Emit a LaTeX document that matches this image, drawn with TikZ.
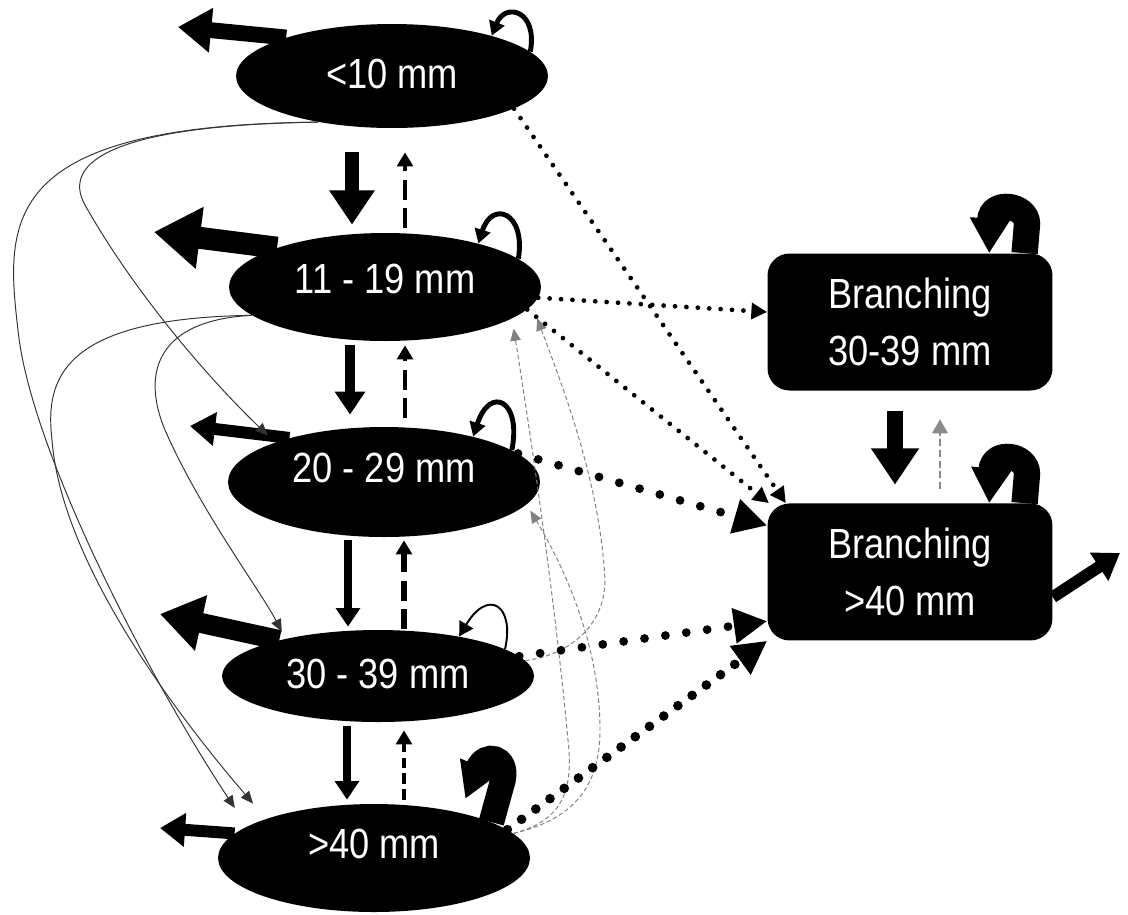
\documentclass[tikz,border=0pt]{standalone}
\usepackage{fontspec}
\setmainfont{Liberation Sans}[FakeStretch=0.86]
\usetikzlibrary{positioning}
\usetikzlibrary{arrows.meta,shapes.geometric}

\begin{document}
\begin{tikzpicture}[x=0.02cm,y=-0.02cm,node distance=5cm,on grid,
  sizeclass/.style={ellipse,fill=black,text=white,inner sep=0pt,minimum width=6.24cm,minimum height=#1,font=\fontsize{24}{32}\selectfont},
  branch/.style={rectangle,rounded corners=0.44cm,fill=black,text=white,minimum width=5.7cm,minimum height=2.74cm,align=center,font=\fontsize{24}{32.5}\selectfont},
  fall/.style={line width=#1,-{Triangle[length=0pt 2.3,width=0pt 2.9]}},
  rise/.style={line width=#1,dash pattern=on 11pt off 5pt,-{Triangle[length=8pt,width=9pt]}},
  emigr/.style={line width=#1,-{Triangle[length=0pt 2.1,width=0pt 2.7]}},
  selfloop/.style={line width=#1,-{Triangle[length=8pt,width=9pt]}},
  curl/.style={line width=#1,-{Triangle[length=20pt,width=22pt]}},
  skip/.style={line width=0.55pt,black!80,-{Triangle[length=7pt,width=6pt]}},
  regress/.style={line width=0.55pt,black!50,dash pattern=on 2.5pt off 1.5pt,-{Triangle[length=7pt,width=6pt]}},
  finedot/.style={line width=2.7pt,line cap=round,dash pattern=on 0pt off 6.5pt,-{Triangle[length=9pt,width=9pt]}},
  bigdot/.style={line width=5pt,line cap=round,dash pattern=on 0pt off 12pt,-{Triangle[length=19pt,width=19pt]}}]
  \useasboundingbox (0,0) rectangle (1128,914);

  \node[sizeclass=2.08cm,text depth=3pt] (E1) at (392,76) {<10 mm};
  \node[sizeclass=2.16cm,text depth=9pt] (E2) at (385,287) {11 - 19 mm};
  \node[sizeclass=2.2cm,text depth=16pt] (E3) at (384,482) {20 - 29 mm};
  \node[sizeclass=1.84cm,text depth=3pt] (E4) at (378,676) {30 - 39 mm};
  \node[sizeclass=2.16cm,text depth=16pt] (E5) at (374,858) {>40 mm};
  \node[branch] (B1) at (910,322) {Branching\\30-39 mm};
  \node[branch] (B2) [below=of B1] {Branching\\>40 mm};

  \coordinate (lost1) at (178,27);
  \coordinate (lost2) at (154,232);
  \coordinate (lost3) at (190,426);
  \coordinate (lost4) at (160,614);
  \coordinate (lost5) at (160,828);
  \coordinate (lost6) at (1120,553);

  \draw[emigr=9pt] (E1.160) -- (lost1);
  \draw[emigr=12.5pt] (E2.160) -- (lost2);
  \draw[emigr=6.8pt] (E3.155) -- (lost3);
  \draw[emigr=11.4pt] (E4.160) -- (lost4);
  \draw[emigr=6.8pt] (E5.170) -- (lost5);
  \draw[emigr=6.8pt] (B2.-10) -- (lost6);

  \draw[fall=8.5pt,shorten <=0.48cm,shorten >=0.16cm] (352,0 |- E1.south) -- (352,0 |- E2.north);
  \draw[fall=5.7pt,shorten <=0.08cm,shorten >=0.24cm] (350,0 |- E2.south) -- (350,0 |- E3.north);
  \draw[fall=4.6pt,shorten <=0.06cm,shorten >=0.06cm] (348,0 |- E3.south) -- (348,0 |- E4.north);
  \draw[fall=4.6pt,shorten <=0.08cm,shorten >=0.08cm] (347,0 |- E4.south) -- (347,0 |- E5.north);
  \draw[fall=9pt,shorten <=0.4cm,shorten >=0.37cm] (895,0 |- B1.south) -- (895,0 |- B2.north);

  \draw[rise=2.8pt,shorten <=0.1cm,shorten >=0.48cm] (405,0 |- E2.north) -- (405,0 |- E1.south);
  \draw[rise=2.8pt,shorten <=0.18cm,shorten >=0.08cm] (405,0 |- E3.north) -- (405,0 |- E2.south);
  \draw[rise=3.2pt,shorten <=0.02cm,shorten >=0.06cm] (404,0 |- E4.north) -- (404,0 |- E3.south);
  \draw[rise=1.8pt,dash pattern=on 6pt off 3pt,shorten <=0.08cm,shorten >=0.16cm] (404,0 |- E5.north) -- (404,0 |- E4.south);
  \draw[rise=0.9pt,black!45,dash pattern=on 4pt off 2pt,shorten <=0.29cm,shorten >=0.57cm] (940,0 |- B2.north) -- (940,0 |- B1.south);

  \draw[selfloop=2.8pt] (E1.10) .. controls (538,10) and (505,2) .. (E1.22);
  \draw[selfloop=2.8pt] (E2.12) .. controls (526,212) and (492,200) .. (E2.25);
  \draw[selfloop=2.8pt] (E3.14) .. controls (522,400) and (490,385) .. (E3.27);
  \draw[selfloop=1.1pt] (E4.12) .. controls (515,605) and (488,588) .. (E4.26);
  \draw[curl=14.5pt,shorten >=0.3cm] (E5.17) -- (503,780) .. controls (508,756) and (485,752) .. (E5.28);
  \draw[curl=15pt] (B1.31) -- (1027,224) .. controls (1027,204) and (991,200) .. (B1.41);
  \draw[curl=15pt] (B2.31) -- (1027,474) .. controls (1027,454) and (993,450) .. (B2.41);

  \draw[skip,shorten >=0.2cm] (E1.212) .. controls (120,125) and (60,160) .. (85,205) .. controls (130,285) and (200,370) .. (E3.160);
  \draw[skip,shorten >=0.44cm] (E1.212) .. controls (0,125) and (5,220) .. (18,330) .. controls (30,450) and (150,680) .. (E5.166);
  \draw[skip,shorten >=0.16cm] (E2.192) .. controls (160,320) and (140,370) .. (165,430) .. controls (200,510) and (260,590) .. (E4.158);
  \draw[skip,shorten >=0.4cm] (E2.192) .. controls (60,318) and (45,380) .. (52,440) .. controls (62,570) and (190,730) .. (E5.160);

  \draw[regress,shorten >=0.2cm] (E5.10) .. controls (555,822) and (575,800) .. (568,740) .. controls (555,600) and (530,430) .. (E2.-14);
  \draw[regress,shorten >=0.14cm] (E5.10) .. controls (570,820) and (600,790) .. (600,730) .. controls (600,640) and (560,560) .. (E3.-9);
  \draw[regress,shorten >=0.28cm] (E4.6) .. controls (570,655) and (605,625) .. (605,580) .. controls (600,480) and (560,380) .. (E2.-7);

  \draw[finedot] (E1.-15) -- (B2.151);
  \draw[finedot] (E2.-4) -- (B1.176);
  \draw[finedot] (E2.-9) -- (B2.154);
  \draw[bigdot] (E3.12) -- (B2.162);
  \draw[bigdot] (E4.8) -- (B2.199);
  \draw[bigdot,line width=5.5pt,dash pattern=on 0pt off 10pt] (E5.12) -- (B2.south west);
\end{tikzpicture}
\end{document}
